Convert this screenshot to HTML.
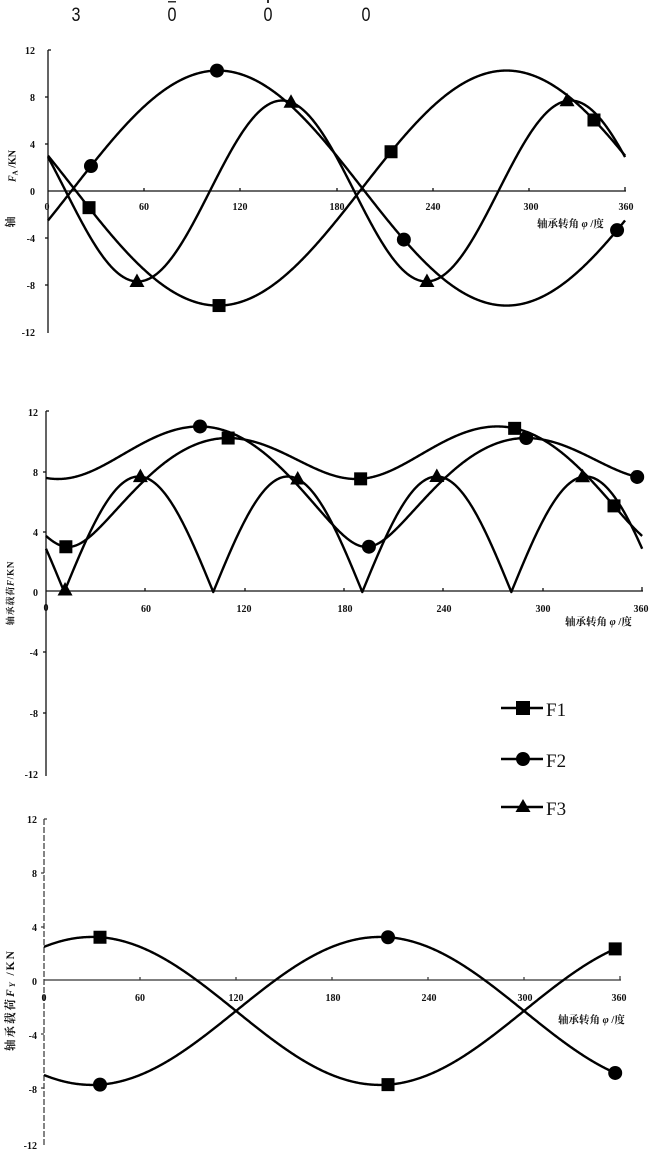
<!DOCTYPE html>
<html><head><meta charset="utf-8">
<style>
html,body{margin:0;padding:0;background:#fff;}
svg{display:block;}
.t{font-family:"Liberation Serif","Noto Serif CJK SC",serif;font-size:10px;font-weight:bold;fill:#111;}
.cn{font-family:"Liberation Serif","Noto Serif CJK SC",serif;font-weight:bold;fill:#111;}
.lg{font-family:"Liberation Serif",serif;font-size:19px;fill:#111;}
.hd{font-family:"Liberation Sans",sans-serif;font-size:19px;fill:#111;}
</style></head><body>
<svg id="s" width="650" height="1168" viewBox="0 0 650 1168" xmlns="http://www.w3.org/2000/svg">
<rect width="650" height="1168" fill="#fff"/>

<!-- header fragments -->
<g class="hd">
<text x="76" y="21" text-anchor="middle" transform="translate(76,0) scale(0.85,1) translate(-76,0)">3</text>
<text x="172" y="21" text-anchor="middle" transform="translate(172,0) scale(0.85,1) translate(-172,0)">0</text>
<text x="268" y="21" text-anchor="middle" transform="translate(268,0) scale(0.85,1) translate(-268,0)">0</text>
<text x="366" y="21" text-anchor="middle" transform="translate(366,0) scale(0.85,1) translate(-366,0)">0</text>
</g>
<rect x="168" y="1" width="8" height="1.5" fill="#333"/>
<rect x="267" y="0" width="2" height="3" fill="#333"/>

<!-- ===== TOP CHART ===== -->
<g stroke="#111" stroke-width="1.3" fill="none">
<line x1="48" y1="50" x2="48" y2="333"/>
<line x1="48" y1="50" x2="51" y2="50"/>
<line x1="48" y1="191" x2="626" y2="191"/>
<line x1="45" y1="97" x2="48" y2="97"/><line x1="45" y1="144" x2="48" y2="144"/>
<line x1="45" y1="238" x2="48" y2="238"/><line x1="45" y1="285" x2="48" y2="285"/>
<line x1="144" y1="188" x2="144" y2="191"/><line x1="240" y1="188" x2="240" y2="191"/>
<line x1="337" y1="188" x2="337" y2="191"/><line x1="433" y1="188" x2="433" y2="191"/>
<line x1="529" y1="188" x2="529" y2="191"/><line x1="625" y1="187" x2="625" y2="191"/>
</g>
<g class="t" text-anchor="end">
<text x="35" y="54">12</text><text x="35" y="101">8</text><text x="35" y="148">4</text>
<text x="35" y="195">0</text><text x="35" y="242">-4</text><text x="35" y="289">-8</text>
<text x="35" y="336">-12</text>
</g>
<g class="t" text-anchor="middle">
<text x="47" y="210">0</text><text x="144" y="210">60</text><text x="240" y="210">120</text>
<text x="337" y="210">180</text><text x="433" y="210">240</text><text x="531" y="210">300</text>
<text x="626" y="210">360</text>
</g>
<text class="cn" x="537" y="227" font-size="10.5">轴承转角 <tspan font-style="italic">φ</tspan> /度</text>
<text class="cn" font-size="10" text-anchor="middle" transform="translate(15.5,166) rotate(-90)"><tspan font-style="italic">F</tspan><tspan font-size="7" dy="2">A</tspan><tspan dy="-2"> /KN</tspan></text>
<text class="cn" font-size="11" text-anchor="middle" transform="translate(14,222) rotate(-90)">轴</text>

<!-- ===== MIDDLE CHART ===== -->
<g stroke="#111" stroke-width="1.3" fill="none">
<line x1="46" y1="411" x2="46" y2="776"/>
<line x1="46" y1="411" x2="49" y2="411"/>
<line x1="46" y1="591" x2="643" y2="591"/>
<line x1="43" y1="472" x2="46" y2="472"/><line x1="43" y1="532" x2="46" y2="532"/>
<line x1="43" y1="652" x2="46" y2="652"/><line x1="43" y1="713" x2="46" y2="713"/>
<line x1="145" y1="588" x2="145" y2="591"/><line x1="245" y1="588" x2="245" y2="591"/>
<line x1="344" y1="588" x2="344" y2="591"/><line x1="443" y1="588" x2="443" y2="591"/>
<line x1="543" y1="588" x2="543" y2="591"/><line x1="642" y1="587" x2="642" y2="591"/>
</g>
<g class="t" text-anchor="end">
<text x="38" y="416">12</text><text x="38" y="476">8</text><text x="38" y="536">4</text>
<text x="38" y="596">0</text><text x="38" y="656">-4</text><text x="38" y="717">-8</text>
<text x="38" y="778">-12</text>
</g>
<g class="t" text-anchor="middle">
<text x="46" y="611">0</text><text x="146" y="612">60</text><text x="244" y="612">120</text>
<text x="345" y="612">180</text><text x="444" y="612">240</text><text x="543" y="612">300</text>
<text x="641" y="612">360</text>
</g>
<text class="cn" x="565" y="625" font-size="10.5">轴承转角 <tspan font-style="italic">φ</tspan> /度</text>
<text class="cn" font-size="9" letter-spacing="0.8" text-anchor="middle" transform="translate(13.5,593) rotate(-90)">轴承载荷<tspan font-style="italic">F</tspan>/KN</text>

<!-- legend -->
<g stroke="#000" stroke-width="2.4">
<line x1="501" y1="708" x2="543" y2="708"/>
<line x1="501" y1="759" x2="543" y2="759"/>
<line x1="501" y1="807" x2="543" y2="807"/>
</g>
<rect x="516" y="701" width="14" height="14" fill="#000"/>
<circle cx="523" cy="759" r="7" fill="#000"/>
<polygon points="523,799 515.5,812 530.5,812" fill="#000"/>
<g class="lg">
<text x="546" y="716">F1</text>
<text x="546" y="767">F2</text>
<text x="546" y="815">F3</text>
</g>

<!-- ===== BOTTOM CHART ===== -->
<g stroke="#333" stroke-width="1.2" fill="none">
<line x1="44" y1="819" x2="44" y2="1146" stroke-dasharray="6,2"/>
<line x1="44" y1="819" x2="47" y2="819"/>
<line x1="44" y1="980" x2="621" y2="980"/>
<line x1="41" y1="873" x2="44" y2="873"/><line x1="41" y1="927" x2="44" y2="927"/>
<line x1="41" y1="1034" x2="44" y2="1034"/><line x1="41" y1="1088" x2="44" y2="1088"/>
<line x1="140" y1="977" x2="140" y2="980"/><line x1="236" y1="977" x2="236" y2="980"/>
<line x1="332" y1="977" x2="332" y2="980"/><line x1="428" y1="977" x2="428" y2="980"/>
<line x1="524" y1="977" x2="524" y2="980"/><line x1="620" y1="976" x2="620" y2="980"/>
</g>
<g class="t" text-anchor="end">
<text x="37" y="823">12</text><text x="37" y="877">8</text><text x="37" y="931">4</text>
<text x="37" y="985">0</text><text x="37" y="1039">-4</text><text x="37" y="1093">-8</text>
<text x="37" y="1149">-12</text>
</g>
<g class="t" text-anchor="middle">
<text x="44" y="1001">0</text><text x="140" y="1001">60</text><text x="236" y="1001">120</text>
<text x="333" y="1001">180</text><text x="429" y="1001">240</text><text x="525" y="1001">300</text>
<text x="619" y="1001">360</text>
</g>
<text class="cn" x="558" y="1023" font-size="10.5">轴承转角 <tspan font-style="italic">φ</tspan> /度</text>
<text class="cn" font-size="11.5" letter-spacing="2" text-anchor="middle" transform="translate(14,1000) rotate(-90)">轴承载荷<tspan font-style="italic">F<tspan font-size="8" dy="1">Y</tspan></tspan><tspan dy="-1"> /KN</tspan></text>

<g id="curves" fill="none" stroke="#000" stroke-width="2.4" stroke-linejoin="round"></g>
<g id="marks" fill="#000"></g>
</svg>
<script>
(function(){
var D=Math.PI/180;
var A=function(t){return 0.25+10.0*Math.cos((t-106)*D);};
var B=function(t){return 0.25-10.0*Math.cos((t-106)*D);};
var A0=function(t){return 10.2*Math.cos((t-106)*D);};
var B0=function(t){return -A0(t);};
var C=function(t){return -7.7*Math.cos(2*(t-56)*D);};
var Y1=function(t){return -2.3+5.5*Math.cos((t-30)*D);};
var Y2=function(t){return -2.3-5.5*Math.cos((t-30)*D);};
var M1=function(t){return Math.hypot(B0(t),Y1(t));};
var M2=function(t){return Math.hypot(A0(t),Y2(t));};
var M3=function(t){return Math.abs(C(t));};
var charts=[
 {x0:48,sx:1.603,y0:191,sy:11.75,fns:[A,B,C],
  marks:[[A,'c',[26.8,105.4,222,355]],[B,'s',[25.6,106.7,214,340.6]],[C,'t',[55.5,151.6,236.4,323.8]]]},
 {x0:46,sx:1.656,y0:592,sy:15,fns:[M1,M2,M3],
  marks:[[M1,'s',[12,110,190,283,343]],[M2,'c',[93,195,290,357]],[M3,'t',[11.5,57,152,236,324]]]},
 {x0:44,sx:1.6,y0:980,sy:13.45,fns:[Y1,Y2],
  marks:[[Y1,'s',[35,215,357]],[Y2,'c',[35,215,357]]]}
];
var NS="http://www.w3.org/2000/svg";
var cg=document.getElementById('curves'), mg=document.getElementById('marks');
charts.forEach(function(ch){
  ch.fns.forEach(function(f){
    var d='';
    for(var t=0;t<=360.001;t+=0.5){
      var x=ch.x0+t*ch.sx, y=ch.y0-f(t)*ch.sy;
      d+=(t===0?'M':'L')+x.toFixed(2)+' '+y.toFixed(2);
    }
    var p=document.createElementNS(NS,'path'); p.setAttribute('d',d); cg.appendChild(p);
  });
  ch.marks.forEach(function(m){
    m[2].forEach(function(t){
      var x=ch.x0+t*ch.sx, y=ch.y0-m[0](t)*ch.sy, e;
      if(m[1]==='s'){e=document.createElementNS(NS,'rect');
        e.setAttribute('x',x-6.5);e.setAttribute('y',y-6.5);e.setAttribute('width',13);e.setAttribute('height',13);}
      else if(m[1]==='c'){e=document.createElementNS(NS,'circle');
        e.setAttribute('cx',x);e.setAttribute('cy',y);e.setAttribute('r',7);}
      else {e=document.createElementNS(NS,'polygon');
        e.setAttribute('points',x+','+(y-8)+' '+(x-7.5)+','+(y+5.5)+' '+(x+7.5)+','+(y+5.5));}
      mg.appendChild(e);
    });
  });
});
})();
</script>
</body></html>
